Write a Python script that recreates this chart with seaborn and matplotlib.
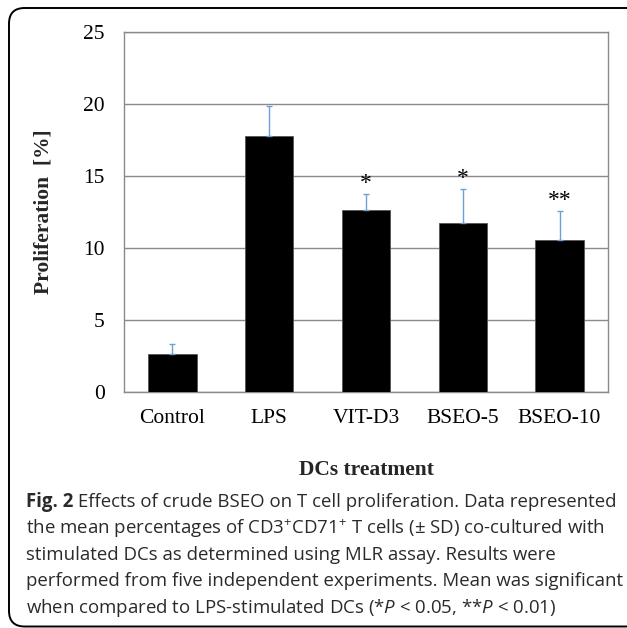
import numpy as np
import pandas as pd
import matplotlib
matplotlib.use("Agg")
import matplotlib.pyplot as plt
from matplotlib.patches import FancyBboxPatch
import seaborn as sns

# ---- data ----
categories = ["Control", "LPS", "VIT-D3", "BSEO-5", "BSEO-10"]
means = [2.65, 17.75, 12.65, 11.75, 10.55]
sds = [0.68, 2.12, 1.09, 2.32, 2.03]
stars = ["", "", "*", "*", "**"]
y_ticks = [0, 5, 10, 15, 20, 25]
x_label = "DCs treatment"
y_label = "Proliferation  [%]"
caption_head = "Fig. 2"
caption_lines = [
    " Effects of crude BSEO on T cell proliferation. Data represented",
    r"the mean percentages of CD3$^{+}$CD71$^{+}$ T cells (± SD) co-cultured with",
    "stimulated DCs as determined using MLR assay. Results were",
    "performed from five independent experiments. Mean was significant",
    r"when compared to LPS-stimulated DCs (*$P$ < 0.05, **$P$ < 0.01)",
]

sns.set_theme(style="white")
plt.rcParams["mathtext.fontset"] = "custom"
plt.rcParams["mathtext.rm"] = "Open Sans"
plt.rcParams["mathtext.it"] = "Open Sans:italic"
plt.rcParams["mathtext.bf"] = "Open Sans:bold"

W, H = 627, 628
fig = plt.figure(figsize=(W / 100, H / 100), dpi=100)
fig.patch.set_facecolor("white")

ax = fig.add_axes([124 / W, 1 - 392 / H, (608 - 124) / W, (392 - 32) / H])
df = pd.DataFrame({"cat": categories, "val": means})
sns.barplot(data=df, x="cat", y="val", color="black", width=0.5,
            errorbar=None, saturation=1, ax=ax, zorder=3,
            edgecolor="#555555", linewidth=0.6)
ax.errorbar(x=np.arange(len(categories)), y=means,
            yerr=[np.zeros(len(sds)), sds], fmt="none",
            ecolor="#6f9fd8", elinewidth=1.0, capsize=2, capthick=1.0, zorder=4)
for i, s in enumerate(stars):
    if s:
        ax.text(i, means[i] + sds[i] + 0.75, s, ha="center", va="center",
                fontsize=17, family="Liberation Serif", color="black", zorder=5)

ax.set_ylim(0, 25)
ax.set_xlim(-0.5, len(categories) - 0.5)
ax.set_yticks(y_ticks)
ax.set_yticklabels([str(t) for t in y_ticks], family="Liberation Serif", fontsize=15.5)
ax.set_xticks(range(len(categories)))
ax.set_xticklabels(categories, family="Liberation Serif", fontsize=15.5)
ax.tick_params(axis="y", length=0, pad=14, colors="black")
ax.tick_params(axis="x", length=0, pad=12, colors="black")
ax.set_xlabel("")
ax.set_ylabel("")
ax.yaxis.grid(True, color="#8a8a8a", linewidth=1.0, zorder=0)
ax.set_axisbelow(True)
for sp in ax.spines.values():
    sp.set_visible(True)
    sp.set_color("#8a8a8a")
    sp.set_linewidth(1.0)

fig.text(366 / W, 1 - 470 / H, x_label, ha="center", va="center",
         family="Liberation Serif", fontweight="bold", fontsize=15.5)
fig.text(44 / W, 1 - 212 / H, y_label, ha="center", va="center", rotation=90,
         family="Liberation Serif", fontweight="bold", fontsize=15.5)

# caption
cap_fs = 13.45
cap_col = "#2a2a2a"
line_y = [502, 528.5, 555, 581.5, 608]
renderer = fig.canvas.get_renderer()
head = fig.text(26 / W, 1 - line_y[0] / H, caption_head, ha="left", va="center",
                family="Open Sans", fontweight="bold", fontsize=cap_fs, color=cap_col)
hx = head.get_window_extent(renderer).x1
for k, (ln, yy) in enumerate(zip(caption_lines, line_y)):
    x0 = hx / W if k == 0 else 26 / W
    fig.text(x0, 1 - yy / H, ln, ha="left", va="center",
             family="Open Sans", fontsize=cap_fs, color=cap_col)

# rounded frame
box = FancyBboxPatch((9 / W, 1 - 626.5 / H), (670 - 9) / W, (626.5 - 8) / H,
                     boxstyle="round,pad=0,rounding_size=0.025",
                     transform=fig.transFigure, fill=False,
                     edgecolor="black", linewidth=1.4)
fig.patches.append(box)

fig.savefig("out.png", dpi=100, facecolor="white")
